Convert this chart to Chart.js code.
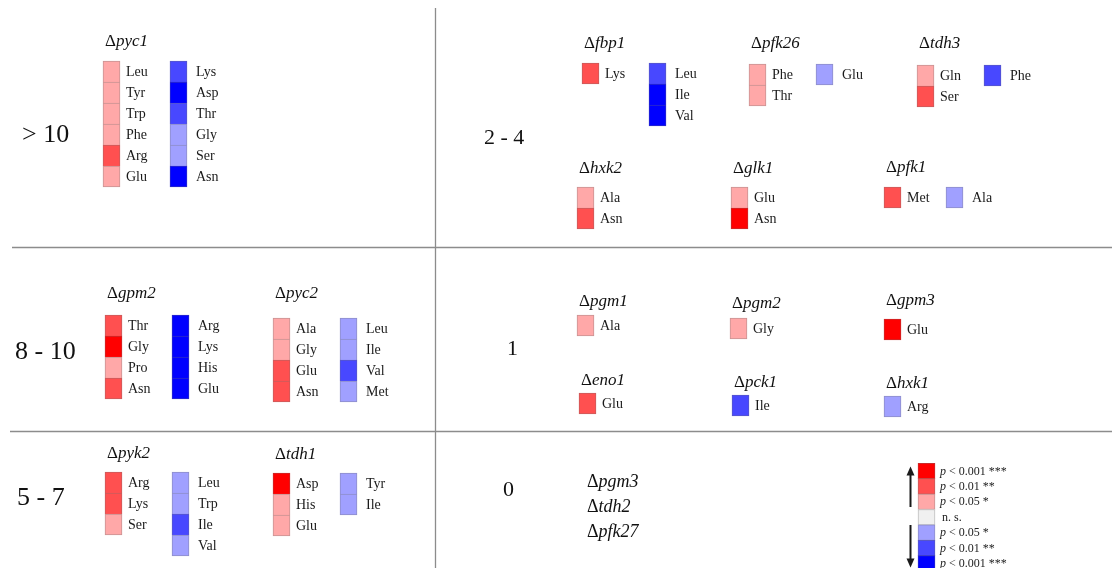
<!DOCTYPE html>
<html>
<head>
<meta charset="utf-8">
<script src="https://cdn.jsdelivr.net/npm/chart.js@4.4.1/dist/chart.umd.min.js"></script>
<style>
  html, body { margin: 0; background: #fff; }
  #wrap { width: 1112px; height: 568px; }
</style>
</head>
<body>
<div id="wrap"><canvas id="c" width="1112" height="568"></canvas></div>
<script>
// number of changed amino acids per deletion strain
const groupLabels = ['> 10', '8 - 10', '5 - 7', '2 - 4', '1', '0'];

// level: 3 = p<0.001, 2 = p<0.01, 1 = p<0.05
const genes     = ['pyc1', 'gpm2', 'pyc2', 'pyk2', 'tdh1', 'fbp1', 'pfk26', 'tdh3', 'hxk2', 'glk1', 'pfk1', 'pgm1', 'pgm2', 'gpm3', 'eno1', 'pck1', 'hxk1'];
const upAA      = [['Leu','Tyr','Trp','Phe','Arg','Glu'], ['Thr','Gly','Pro','Asn'], ['Ala','Gly','Glu','Asn'], ['Arg','Lys','Ser'], ['Asp','His','Glu'],
                   ['Lys'], ['Phe','Thr'], ['Gln','Ser'], ['Ala','Asn'], ['Glu','Asn'], ['Met'], ['Ala'], ['Gly'], ['Glu'], ['Glu'], [], []];
const upLevel   = [[1,1,1,1,2,1], [2,3,1,2], [1,1,2,2], [2,2,1], [3,1,1], [2], [1,1], [1,2], [1,2], [1,3], [2], [1], [1], [3], [2], [], []];
const downAA    = [['Lys','Asp','Thr','Gly','Ser','Asn'], ['Arg','Lys','His','Glu'], ['Leu','Ile','Val','Met'], ['Leu','Trp','Ile','Val'], ['Tyr','Ile'],
                   ['Leu','Ile','Val'], ['Glu'], ['Phe'], [], [], ['Ala'], [], [], [], [], ['Ile'], ['Arg']];
const downLevel = [[2,3,2,1,1,3], [3,3,3,3], [1,1,2,1], [1,1,2,1], [1,1], [2,3,3], [1], [2], [], [], [1], [], [], [], [], [2], [1]];
const zeroGenes = ['pgm3', 'tdh2', 'pfk27'];

const keyLevels = [3, 2, 1, 0, -1, -2, -3];
const keyLabels = ['< 0.001 ***', '< 0.01 **', '< 0.05 *', 'n. s.', '< 0.05 *', '< 0.01 **', '< 0.001 ***'];

// ---- layout (px) ----
// [first column left, first cell top, name baseline, column gap]
const slots = [
  [103, 61, 46], [105, 315, 298], [273, 318, 298], [105, 472, 458], [273, 473, 459],
  [582, 63, 48], [749, 64, 48], [917, 65, 48],
  [577, 187, 173], [731, 187, 173], [884, 187, 172, 62],
  [577, 315, 306], [730, 318, 308], [884, 319, 305],
  [579, 393, 385], [732, 395, 387], [884, 396, 388]
];
const groupPos = [[22, 135, 26], [15, 352, 26], [17, 498, 26], [484, 138, 22], [507, 349, 22], [503, 490, 22]];
const CELL_W = 17, CELL_H = 21;
const SERIF = '"Liberation Serif", "Times New Roman", serif';

const COLORS = { '3': '#ff0000', '2': '#ff5050', '1': '#ffa8a8', '0': '#f0f0f0', '-1': '#a0a0ff', '-2': '#4848ff', '-3': '#0000ff' };
const shade = hex => {
  const n = parseInt(hex.slice(1), 16);
  const m = c => Math.round(c * 0.62 + 112 * 0.38);
  return `rgb(${m(n >> 16)},${m((n >> 8) & 255)},${m(n & 255)})`;
};

const cells = [];
genes.forEach((g, i) => {
  const [left0, top, , gap = 67] = slots[i];
  const cols = [];
  if (upAA[i].length) cols.push({ aa: upAA[i], lv: upLevel[i], sign: 1 });
  if (downAA[i].length) cols.push({ aa: downAA[i], lv: downLevel[i], sign: -1 });
  cols.forEach((col, k) => {
    const left = left0 + k * gap;
    col.aa.forEach((a, j) => {
      const y0 = top + j * CELL_H;
      cells.push({ x: left + CELL_W / 2, y: [y0, y0 + CELL_H], level: col.sign * col.lv[j],
                   label: a, lx: left + CELL_W + (k ? 9 : 6), last: j === col.aa.length - 1 });
    });
  });
});

const KEY_X = 918, KEY_TOP = 463.3, KEY_H = 15.4;
const keyCells = keyLevels.map((lv, i) => ({ x: KEY_X + CELL_W / 2, y: [KEY_TOP + i * KEY_H, KEY_TOP + (i + 1) * KEY_H], level: lv, label: keyLabels[i], last: true }));

const cellStyle = {
  grouped: false,
  barThickness: CELL_W,
  borderSkipped: false,
  backgroundColor: ctx => ctx.raw ? COLORS[ctx.raw.level] : '#fff',
  borderColor: ctx => ctx.raw ? shade(COLORS[ctx.raw.level]) : '#999',
  borderWidth: ctx => ({ top: 1, left: 1, right: 1, bottom: ctx.raw && ctx.raw.last ? 1 : 0 })
};

const frame = {
  id: 'frame',
  beforeDatasetsDraw(chart) {
    const { ctx, scales: { x, y } } = chart;
    ctx.save();
    ctx.strokeStyle = '#8c8c8c';
    ctx.lineWidth = 1.3;
    ctx.beginPath();
    ctx.moveTo(x.getPixelForValue(435.5), y.getPixelForValue(8));
    ctx.lineTo(x.getPixelForValue(435.5), y.getPixelForValue(568));
    ctx.moveTo(x.getPixelForValue(12), y.getPixelForValue(247.5));
    ctx.lineTo(x.getPixelForValue(1112), y.getPixelForValue(247.5));
    ctx.moveTo(x.getPixelForValue(10), y.getPixelForValue(431.5));
    ctx.lineTo(x.getPixelForValue(1112), y.getPixelForValue(431.5));
    ctx.stroke();
    ctx.restore();
  },
  afterDatasetsDraw(chart) {
    const { ctx, scales: { x, y } } = chart;
    ctx.save();
    ctx.textBaseline = 'middle';
    ctx.textAlign = 'left';

    // group labels
    ctx.fillStyle = '#111';
    groupLabels.forEach((t, i) => {
      const [gx, gy, fs] = groupPos[i];
      ctx.font = `${fs}px ${SERIF}`;
      ctx.fillText(t, x.getPixelForValue(gx), y.getPixelForValue(gy));
    });

    // strain names: upright delta + italic gene
    const strain = (name, px, py, fs) => {
      ctx.textBaseline = 'alphabetic';
      ctx.font = `${fs}px ${SERIF}`;
      ctx.fillText('\u0394', px, py);
      const w = ctx.measureText('\u0394').width;
      ctx.font = `italic ${fs}px ${SERIF}`;
      ctx.fillText(name, px + w, py);
      ctx.textBaseline = 'middle';
    };
    genes.forEach((g, i) => strain(g, x.getPixelForValue(slots[i][0] + 2), y.getPixelForValue(slots[i][2]), 17));
    zeroGenes.forEach((g, i) => strain(g, x.getPixelForValue(587), y.getPixelForValue(487 + i * 25), 18));

    // amino acid labels
    ctx.font = `14px ${SERIF}`;
    ctx.fillStyle = '#1a1a1a';
    cells.forEach(c => {
      ctx.fillText(c.label, x.getPixelForValue(c.lx), y.getPixelForValue((c.y[0] + c.y[1]) / 2 + 1));
    });

    // key labels
    ctx.fillStyle = '#222';
    keyCells.forEach(c => {
      const px = x.getPixelForValue(940), py = y.getPixelForValue((c.y[0] + c.y[1]) / 2 + 0.5);
      if (c.level === 0) {
        ctx.font = `12px ${SERIF}`;
        ctx.fillText(c.label, px + 2, py);
        return;
      }
      ctx.font = `italic 12px ${SERIF}`;
      ctx.fillText('p', px, py);
      const w = ctx.measureText('p ').width;
      ctx.font = `12px ${SERIF}`;
      ctx.fillText(c.label, px + w, py);
    });

    // direction arrows
    ctx.strokeStyle = '#1a1a1a';
    ctx.fillStyle = '#1a1a1a';
    ctx.lineWidth = 2;
    const ax = x.getPixelForValue(910.5);
    const arrow = (from, to) => {
      const y0 = y.getPixelForValue(from), y1 = y.getPixelForValue(to);
      const d = Math.sign(y1 - y0);
      ctx.beginPath();
      ctx.moveTo(ax, y0);
      ctx.lineTo(ax, y1 - d * 6);
      ctx.stroke();
      ctx.beginPath();
      ctx.moveTo(ax, y1);
      ctx.lineTo(ax - 4, y1 - d * 9);
      ctx.lineTo(ax + 4, y1 - d * 9);
      ctx.closePath();
      ctx.fill();
    };
    arrow(507, 466.5);
    arrow(525, 567.5);
    ctx.restore();
  }
};

new Chart(document.getElementById('c'), {
  type: 'bar',
  data: {
    datasets: [
      Object.assign({ label: 'cells', data: cells }, cellStyle),
      Object.assign({ label: 'key', data: keyCells }, cellStyle)
    ]
  },
  options: {
    responsive: false,
    animation: false,
    devicePixelRatio: 1,
    events: [],
    layout: { padding: 0 },
    plugins: { legend: { display: false }, tooltip: { enabled: false } },
    scales: {
      x: { type: 'linear', min: 0, max: 1112, offset: false, display: false },
      y: { type: 'linear', min: 0, max: 568, reverse: true, display: false }
    }
  },
  plugins: [frame]
});
</script>
</body>
</html>
